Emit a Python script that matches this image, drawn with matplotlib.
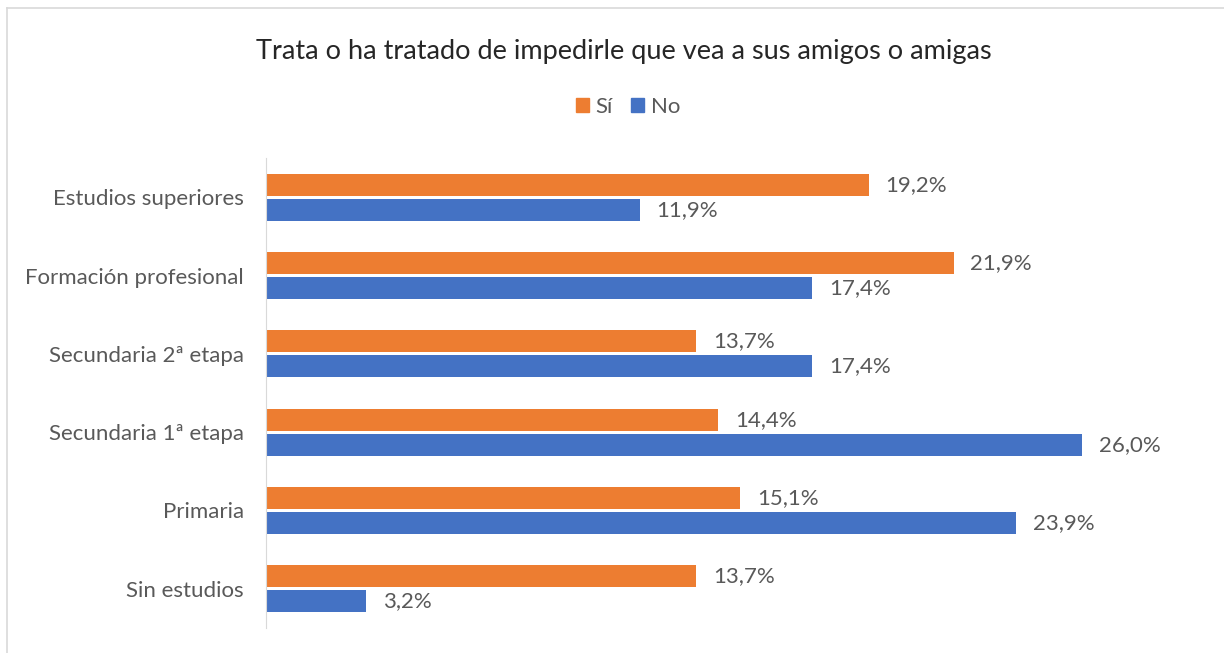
import matplotlib

matplotlib.use("Agg")
import matplotlib.pyplot as plt
import numpy as np
from matplotlib.lines import Line2D
from matplotlib.patches import Patch

ORANGE = "#ED7D31"
BLUE = "#4472C4"
TEXT = "#595959"

categories = ["Sin estudios", "Primaria", "Secundaria 1ª etapa",
              "Secundaria 2ª etapa", "Formación profesional", "Estudios superiores"]
si = [13.7, 15.1, 14.4, 13.7, 21.9, 19.2]
no = [3.2, 23.9, 26.0, 17.4, 17.4, 11.9]

plt.rcParams["font.family"] = ["Lato", "DejaVu Sans"]

fig = plt.figure(figsize=(12.24, 6.53), dpi=100)
ax = fig.add_axes([266 / 1224, 1 - 628 / 653, 942 / 1224, 470 / 653])

y = np.arange(len(categories))
h = 0.28
off = 0.16
b_si = ax.barh(y + off, si, height=h, color=ORANGE)
b_no = ax.barh(y - off, no, height=h, color=BLUE)

for bars, vals in ((b_si, si), (b_no, no)):
    for bar, v in zip(bars, vals):
        ax.annotate(f"{v:.1f}%".replace(".", ","),
                    (bar.get_width(), bar.get_y() + bar.get_height() / 2),
                    xytext=(12, 0), textcoords="offset points",
                    va="center", ha="left", fontsize=16, color=TEXT)

ax.set_xlim(0, 30)
ax.set_ylim(-0.5, len(categories) - 0.5)
ax.set_yticks(y)
ax.set_yticklabels(categories, fontsize=16, color=TEXT)
ax.set_xticks([])
ax.tick_params(axis="y", length=0, pad=16)
for s in ("top", "right", "bottom"):
    ax.spines[s].set_visible(False)
ax.spines["left"].set_color("#D9D9D9")

fig.text(624 / 1224, 1 - 51 / 653, "Trata o ha tratado de impedirle que vea a sus amigos o amigas",
         ha="center", va="center", fontsize=19.5, color="#262626")

handles = [Patch(color=ORANGE, label="Sí"), Patch(color=BLUE, label="No")]
fig.legend(handles=handles, loc="center", bbox_to_anchor=(628 / 1224, 1 - 107 / 653),
           ncol=2, frameon=False, fontsize=16, handlelength=0.6, handleheight=0.6,
           handletextpad=0.3, columnspacing=0.8, labelcolor=TEXT)

# chart frame (left and top edges visible in the reference)
fig.add_artist(Line2D([7 / 1224, 7 / 1224], [0, 1 - 8 / 653], color="#D9D9D9", lw=1.2))
fig.add_artist(Line2D([7 / 1224, 1], [1 - 8 / 653, 1 - 8 / 653], color="#D9D9D9", lw=1.2))

fig.savefig("out.png", facecolor="white")
